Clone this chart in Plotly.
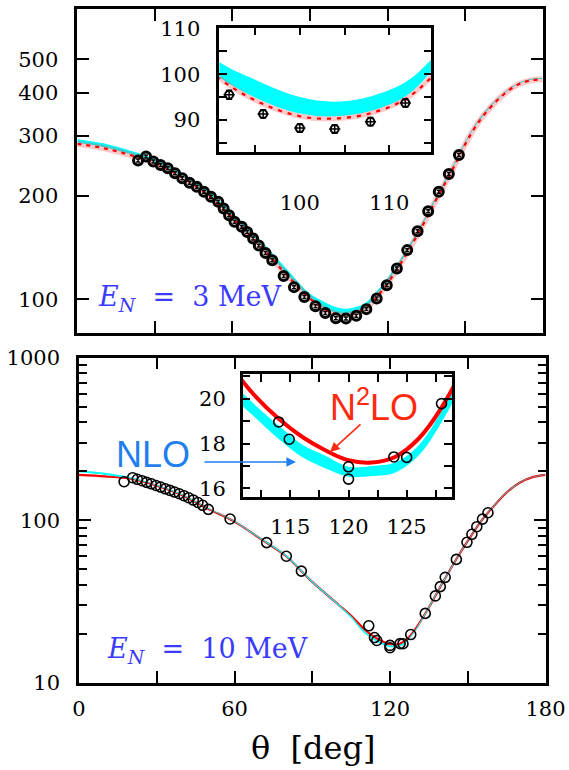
import math
import plotly.graph_objects as go

W, H = 569, 770

# ---------------- data: E_N = 3 MeV ----------------
theta3 = [23.5, 26.6, 29.4, 32.2, 35.0, 37.8, 40.6, 43.4, 46.2, 49.0, 51.7, 54.5, 56.6, 58.7, 60.8,
          63.6, 65.7, 68.0, 70.2, 72.8, 75.4, 79.8, 83.8, 87.8, 92.1, 95.9, 100.0, 103.9, 107.9,
          111.8, 115.8, 119.7, 123.6, 127.6, 131.6, 135.7, 139.8, 143.7, 147.6]
xs3 = [253.8, 260.8, 252.2, 246.4, 240.9, 233.0, 225.4, 218.8, 213.0, 206.0, 199.0, 192.6, 184.0,
       176.0, 168.3, 162.7, 157.3, 150.5, 143.5, 136.5, 130.0, 117.0, 108.6, 101.6, 95.5, 91.3,
       88.2, 88.0, 89.6, 93.7, 100.7, 110.0, 123.1, 139.2, 158.0, 180.6, 206.0, 232.0, 263.5]
err3 = [2.5, 2.5, 2.5, 2.4, 2.4, 2.3, 2.2, 2.2, 2.1, 2.0, 2.0, 1.9, 1.8, 1.8, 1.7, 1.6, 1.6, 1.5,
        1.4, 1.4, 1.3, 1.2, 1.1, 1.0, 1.0, 0.9, 0.9, 0.9, 0.9, 0.9, 1.0, 1.1, 1.2, 1.4, 1.6, 1.8,
        2.1, 2.3, 2.6]

angles3 = [0, 10, 20, 30, 40, 50, 60, 70, 80, 90, 95, 100, 104, 108, 112, 116, 120, 125, 130, 135,
           140, 145, 150, 155, 160, 165, 170, 175, 180]
n2lo3 = [284, 276, 264, 250, 228, 203, 173, 146, 120, 100.6, 94.3, 90.8, 90.3, 91.5, 94.8, 102,
         111.5, 127, 147, 172, 203, 238, 283, 327, 364, 396, 421, 434, 438]
nlo3_lo = [286, 278, 265.5, 251, 229, 204, 174, 147, 121, 100.8, 94.9, 91.4, 90.8, 92, 95.4, 103.5,
           112.5, 128, 148, 173, 204, 239, 284, 328, 365, 397, 422, 435, 439]
nlo3_hi = [293, 285, 272, 257, 235, 209, 178.5, 151, 125, 104, 98.8, 95, 94, 95.2, 98.5, 106,
           115.5, 131, 151, 176, 207.5, 243, 288, 332, 369, 400, 425, 438, 442]

# ---------------- data: E_N = 10 MeV ----------------
theta10 = [17.4, 20.7, 22.5, 24.3, 26.1, 27.9, 29.7, 31.5, 33.3, 35.1, 36.9, 38.7, 40.5, 42.3, 44.1,
           45.9, 47.7, 49.9, 58.3, 72.4, 80.0, 85.8, 111.8, 114.0, 114.9, 120.0, 120.0, 123.9,
           125.0, 128.0, 133.6, 137.5, 139.4, 141.3, 145.6, 149.7, 151.6, 153.5, 155.7, 157.8]
xs10 = [172.6, 182.6, 178.5, 175, 171, 167.5, 163.5, 160, 156, 152.5, 149, 145.5, 141.5, 137.5,
        133, 128.5, 123.5, 116.6, 101.7, 72.8, 60.0, 48.6, 22.4, 18.96, 18.19, 16.96, 16.41, 17.4,
        17.38, 19.78, 26.7, 34.2, 39.0, 44.5, 57.4, 73.1, 81.9, 91.2, 101.6, 111.1]

angles10 = [0, 10, 20, 30, 40, 50, 60, 70, 80, 90, 100, 105, 110, 112, 114, 116, 118, 120, 122, 124,
            126, 128, 130, 135, 140, 145, 150, 155, 160, 165, 170, 175, 180]
n2lo10 = [190, 186, 180, 163, 142, 117, 98, 77, 60, 41.7, 30.3, 25.8, 21.4, 20.1, 19.1, 18.3, 17.7,
          17.25, 17.15, 17.4, 18.2, 19.6, 21.6, 29.0, 40.5, 55.5, 74.5, 98, 122, 148, 170, 184, 190]
nlo10_lo = [197, 190, 180.5, 163, 142, 117, 97.5, 76.5, 59.5, 41.2, 29.9, 25.0, 20.2, 19.15, 18.2,
            17.4, 16.9, 16.52, 16.55, 16.7, 17.45, 18.95, 21.0, 28.6, 40, 55, 74, 97.5, 121.5,
            147.5, 169.5, 183.5, 189.5]
nlo10_hi = [203, 196, 184, 165, 144, 118.5, 99, 78, 61, 42.2, 30.6, 25.7, 20.8, 19.7, 18.8, 17.95,
            17.45, 16.96, 17.0, 17.15, 17.9, 19.45, 21.5, 29.4, 41, 56, 75.3, 99, 123, 149, 171,
            185, 191]

# tick labels
main_x_ticks = [0, 30, 60, 90, 120, 150, 180]
main_x_text = ["0", "", "60", "", "120", "", "180"]
top_y_ticks = [100, 200, 300, 400, 500]
bot_y_ticks = [10, 100, 1000]
bot_y_minor = [20, 30, 40, 50, 60, 70, 80, 90, 200, 300, 400, 500, 600, 700, 800, 900]
in3_x_ticks = [95, 100, 105, 110]
in3_x_text = ["", "100", "", "110"]
in3_y_ticks = [85, 90, 95, 100, 105, 110]
in3_y_text = ["", "90", "", "100", "", "110"]
in10_x_ticks = [112.5, 115, 117.5, 120, 122.5, 125, 127.5]
in10_x_text = ["", "115", "", "120", "", "125", ""]
in10_y_ticks = [16, 17, 18, 19, 20, 21]
in10_y_text = ["16", "", "18", "", "20", ""]

CYAN = "#00FFFF"
RED = "#FF0000"
PINK = "rgba(255,60,60,0.28)"


def px(x):
    return x / W


def py(y):
    return 1 - y / H


fig = go.Figure()


def band(xa, ya, ang, lo, hi, sm=1.0):
    fig.add_trace(go.Scatter(x=ang, y=lo, mode="lines",
                             line=dict(width=0, shape="spline", smoothing=sm, color=CYAN),
                             xaxis=xa, yaxis=ya, hoverinfo="skip"))
    fig.add_trace(go.Scatter(x=ang, y=hi, mode="lines",
                             line=dict(width=0, shape="spline", smoothing=sm, color=CYAN),
                             fill="tonexty", fillcolor=CYAN, xaxis=xa, yaxis=ya, hoverinfo="skip"))


# ---- top main (3 MeV) ----
band("x", "y", angles3, nlo3_lo, nlo3_hi)
fig.add_trace(go.Scatter(x=angles3, y=n2lo3, mode="lines", line=dict(color=PINK, width=6, shape="spline"),
                         xaxis="x", yaxis="y"))
fig.add_trace(go.Scatter(x=angles3, y=n2lo3, mode="lines",
                         line=dict(color=RED, width=2.2, shape="spline", dash="4px,5px"),
                         xaxis="x", yaxis="y"))
fig.add_trace(go.Scatter(x=theta3, y=xs3, mode="markers",
                         marker=dict(symbol="circle-open", size=9, color="black", line=dict(width=3, color="black")),
                         error_y=dict(type="data", array=err3, color="black", thickness=1.5, width=2),
                         xaxis="x", yaxis="y"))

# ---- top inset ----
band("x3", "y3", angles3, nlo3_lo, nlo3_hi)
fig.add_trace(go.Scatter(x=angles3, y=n2lo3, mode="lines", line=dict(color=PINK, width=5, shape="spline"),
                         xaxis="x3", yaxis="y3"))
fig.add_trace(go.Scatter(x=angles3, y=n2lo3, mode="lines",
                         line=dict(color=RED, width=2.2, shape="spline", dash="4px,6px"),
                         xaxis="x3", yaxis="y3"))
fig.add_trace(go.Scatter(x=theta3, y=xs3, mode="markers",
                         marker=dict(symbol="circle-open", size=8, color="black", line=dict(width=2, color="black")),
                         error_y=dict(type="data", array=err3, color="black", thickness=1.5, width=3),
                         xaxis="x3", yaxis="y3"))
fig.add_trace(go.Scatter(x=theta3, y=xs3, mode="markers",
                         marker=dict(symbol="line-ew-open", size=8, color="black", line=dict(width=1.5, color="black")),
                         xaxis="x3", yaxis="y3"))

# ---- bottom main (10 MeV) ----
fig.add_trace(go.Scatter(x=angles10, y=n2lo10, mode="lines",
                         line=dict(color=RED, width=2.2, shape="spline", smoothing=0.8),
                         xaxis="x2", yaxis="y2"))
band("x2", "y2", angles10, nlo10_lo, nlo10_hi, sm=0.8)
fig.add_trace(go.Scatter(x=theta10, y=xs10, mode="markers",
                         marker=dict(symbol="circle-open", size=10, color="black", line=dict(width=1.6, color="black")),
                         xaxis="x2", yaxis="y2"))

# ---- bottom inset ----
band("x4", "y4", angles10, nlo10_lo, nlo10_hi)
fig.add_trace(go.Scatter(x=angles10, y=n2lo10, mode="lines", line=dict(color=RED, width=4, shape="spline"),
                         xaxis="x4", yaxis="y4"))
fig.add_trace(go.Scatter(x=theta10, y=xs10, mode="markers",
                         marker=dict(symbol="circle-open", size=10, color="black", line=dict(width=1.6, color="black")),
                         xaxis="x4", yaxis="y4"))

TICKFONT = dict(family="DejaVu Serif", size=21, color="black")


def ax(**kw):
    base = dict(showline=True, linewidth=2.5, linecolor="black", mirror="ticks", ticks="inside",
                tickwidth=2.2, tickcolor="black", showgrid=False, zeroline=False, tickfont=TICKFONT,
                tickmode="array", automargin=False)
    base.update(kw)
    return base


fig.update_layout(
    width=W, height=H, margin=dict(l=0, r=0, t=0, b=0, pad=0), autosize=False,
    paper_bgcolor="white", plot_bgcolor="white", showlegend=False,
    xaxis=ax(domain=[px(77.3), px(542.7)], range=[0, 180], tickvals=main_x_ticks,
             showticklabels=False, ticklen=12, anchor="y"),
    yaxis=ax(domain=[py(332.7), py(9.3)], type="log", range=[math.log10(80), math.log10(700)],
             tickvals=top_y_ticks, ticktext=[str(v) for v in top_y_ticks], ticklen=12,
             ticklabelstandoff=12, anchor="x"),
    xaxis2=ax(domain=[px(79), px(545.5)], range=[0, 180], tickvals=main_x_ticks, ticktext=main_x_text,
              ticklen=12, ticklabelstandoff=5, anchor="y2"),
    yaxis2=ax(domain=[py(682.7), py(357.7)], type="log", range=[1, 3], tickvals=bot_y_ticks,
              ticktext=[str(v) for v in bot_y_ticks], ticklen=12, ticklabelstandoff=12, anchor="x2",
              minor=dict(tickmode="array", tickvals=bot_y_minor, ticks="inside", ticklen=8,
                         tickwidth=2.2, tickcolor="black")),
    xaxis3=ax(domain=[px(219.3), px(431.3)], range=[91, 114.7], tickvals=in3_x_ticks, ticktext=in3_x_text,
              ticklen=8, ticklabelstandoff=30, anchor="y3"),
    yaxis3=ax(domain=[py(152.3), py(27.7)], range=[82.9, 110.2], tickvals=in3_y_ticks, ticktext=in3_y_text,
              ticklen=8, ticklabelstandoff=12, anchor="x3"),
    xaxis4=ax(domain=[px(242.7), px(452)], range=[110.9, 128.9], tickvals=in10_x_ticks, ticktext=in10_x_text,
              ticklen=8, ticklabelstandoff=9, anchor="y4"),
    yaxis4=ax(domain=[py(497.3), py(374)], range=[15.6, 21.1], tickvals=in10_y_ticks, ticktext=in10_y_text,
              ticklen=8, ticklabelstandoff=10, anchor="x4"),
)

ENCOL = "#3b3bff"
annots = [
    dict(x=px(96), y=py(298), xanchor="left", yanchor="middle",
         text="<i>E</i><sub><i>N</i></sub>&nbsp;&nbsp;=&nbsp;&nbsp;3 MeV",
         font=dict(family="DejaVu Serif", size=27, color=ENCOL), showarrow=False),
    dict(x=px(105), y=py(650), xanchor="left", yanchor="middle",
         text="<i>E</i><sub><i>N</i></sub>&nbsp;&nbsp;=&nbsp;&nbsp;10 MeV",
         font=dict(family="DejaVu Serif", size=27, color=ENCOL), showarrow=False),
    dict(x=px(153), y=py(454), xanchor="center", yanchor="middle", text="NLO",
         font=dict(family="Liberation Sans", size=36, color="#1f7fef"), showarrow=False),
    dict(x=px(374), y=py(405), xanchor="center", yanchor="middle", text="N<sup>2</sup>LO",
         font=dict(family="Liberation Sans", size=36, color="#ff2a10"), showarrow=False),
    dict(x=px(296), y=py(462), text="", showarrow=True, ax=-93, ay=0, arrowhead=2, arrowsize=1.2,
         arrowwidth=1.6, arrowcolor="#1f7fef"),
    dict(x=px(330), y=py(452), text="", showarrow=True, ax=32, ay=-29, arrowhead=2, arrowsize=1.2,
         arrowwidth=1.6, arrowcolor="#ff2a10"),
    dict(x=px(313), y=py(748), xanchor="center", yanchor="middle", text="θ&nbsp;&nbsp;[deg]",
         font=dict(family="DejaVu Serif", size=32, color="black"), showarrow=False),
]
for a in annots:
    a.setdefault("xref", "paper")
    a.setdefault("yref", "paper")
fig.update_layout(annotations=annots)

fig.write_html("out.html")
